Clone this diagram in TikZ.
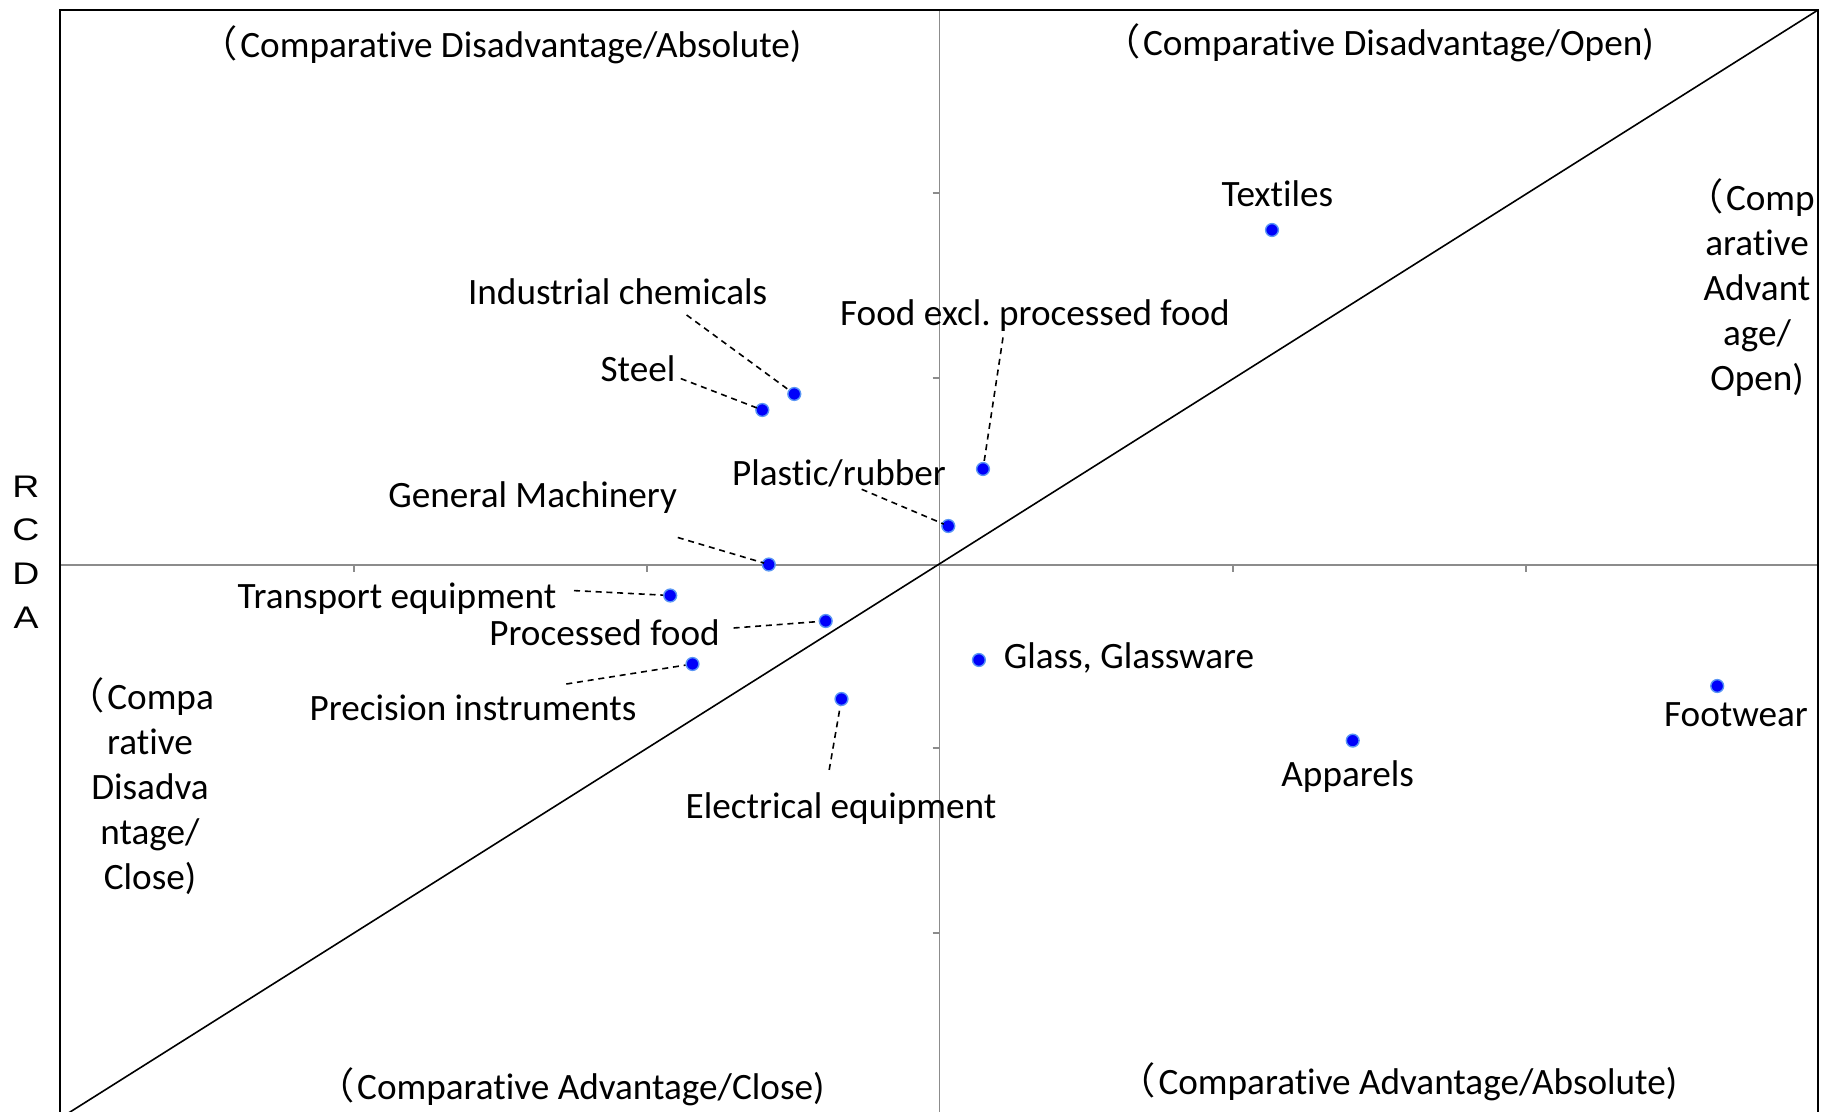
\documentclass[tikz,border=0pt]{standalone}
\usepackage{fontspec}
\setmainfont{Carlito}[RawFeature=-liga]
\newfontfamily\cjkfont{Noto Sans CJK JP}
\newfontfamily\arialfont{Liberation Sans}
\newcommand\fwlp{{\cjkfont （}\kern0.6pt}
\newcommand\wideletter[1]{\scalebox{1.2}[1]{#1}}
\definecolor{ptblue}{RGB}{0,0,250}
\definecolor{ptring}{RGB}{90,150,245}
\definecolor{axisgray}{RGB}{140,140,140}
\tikzset{
  lab/.style={font=\fontsize{9.3}{11.25}\selectfont, inner sep=0pt, anchor=base},
  mlab/.style={font=\fontsize{9.3}{11.25}\selectfont, inner sep=0pt, align=center, anchor=base},
  pt/.style={circle, fill=ptblue, draw=ptring, line width=0.35pt, inner sep=0pt, minimum size=3.2pt},
  leader/.style={draw=black, line width=0.4pt, dash pattern=on 1.5pt off 1.2pt},
  frameline/.style={draw=black, line width=0.5pt},
  axisline/.style={draw=axisgray, line width=0.4pt},
  diag/.style={draw=black, line width=0.4pt},
}
\begin{document}
\begin{tikzpicture}[x=0.25pt,y=-0.25pt]
\useasboundingbox (0,0) rectangle (1832,1112);
% axes
\draw[axisline] (60,565) -- (1818,565);
\draw[axisline] (939.5,10) -- (939.5,1120);
\foreach \tx in {354,647,1233,1526} \draw[axisline] (\tx,565) -- (\tx,572);
\foreach \ty in {193,378,748,933} \draw[axisline] (932.5,\ty) -- (939.5,\ty);
% frame
\draw[frameline] (60,1120) -- (60,10) -- (1818,10) -- (1818,1120);
% diagonal
\coordinate (dTR) at (1818,10);
\coordinate (dBL) at (55,1121.5);
\draw[diag] (dTR) -- (dBL);
% quadrant labels
\node[lab] (qTL) at (501,58) {\fwlp Comparative Disadvantage/Absolute)};
\node[lab] (qTR) at (1378.5,56) {\fwlp Comparative Disadvantage/Open)};
\node[lab] (qBL) at (571,1099) {\fwlp Comparative Advantage/Close)};
\node[lab] (qBR) at (1398,1094) {\fwlp Comparative Advantage/Absolute)};
\node[mlab] (qR) at (1757,390) {\fwlp Comp\hspace*{3.2pt}\\arative\\Advant\\age/\\Open)};
\node[mlab] (qL) at (150,889) {\fwlp Compa\hspace*{4.6pt}\\rative\\Disadva\\ntage/\\Close)};
% axis title
\node[font=\arialfont\fontsize{7.8}{10.9}\selectfont, inner sep=0pt, align=center, anchor=base] (rcda) at (26,628) {\wideletter{R}\\\wideletter{C}\\\wideletter{D}\\\wideletter{A}};
% points
\node[pt] (pTex) at (1272,230) {};
\node[pt] (pIC) at (794.3,394) {};
\node[pt] (pSt) at (762.3,410) {};
\node[pt] (pFood) at (983,469) {};
\node[pt] (pPl) at (948.3,526) {};
\node[pt] (pGM) at (768.8,564.5) {};
\node[pt] (pTr) at (670.2,595.5) {};
\node[pt] (pPF) at (825.7,621) {};
\node[pt] (pPI) at (692.5,664) {};
\node[pt] (pEl) at (841.5,699) {};
\node[pt] (pGl) at (978.9,660) {};
\node[pt] (pAp) at (1352.7,740.6) {};
\node[pt] (pFw) at (1717.2,686) {};
% point labels
\node[lab] (tTex) at (1277.5,207) {Textiles};
\node[lab] (tIC) at (617.7,305) {Industrial chemicals};
\node[lab] (tSt) at (638,382) {Steel};
\node[lab] (tFood) at (1035,325) {Food excl.\ processed food};
\node[lab] (tPl) at (839,485) {Plastic/rubber};
\node[lab] (tGM) at (532.7,507) {General Machinery};
\node[lab] (tTr) at (397,608) {Transport equipment};
\node[lab] (tPF) at (604.5,645) {Processed food};
\node[lab] (tPI) at (473,720.5) {Precision instruments};
\node[lab] (tEl) at (841,818.5) {Electrical equipment};
\node[lab] (tGl) at (1129,668) {Glass, Glassware};
\node[lab] (tAp) at (1347.7,786) {Apparels};
\node[lab] (tFw) at (1736,726) {Footwear};
% leader lines
\coordinate (lIC) at (686.6,315);
\coordinate (lSt) at (680.8,378.6);
\coordinate (lFood) at (1003,337.5);
\coordinate (lPl) at (861.7,489.3);
\coordinate (lGM) at (677.8,537.5);
\coordinate (lTr) at (574,590.6);
\coordinate (lPF) at (733.6,628);
\coordinate (lPI) at (566.3,684);
\coordinate (lEl) at (829.2,769.9);
\draw[leader] (lIC) -- (pIC);
\draw[leader] (lSt) -- (pSt.center);
\draw[leader] (lFood) -- (pFood);
\draw[leader] (lPl) -- (pPl.center);
\draw[leader] (lGM) -- (pGM.center);
\draw[leader] (lTr) -- (pTr);
\draw[leader] (lPF) -- (pPF);
\draw[leader] (lPI) -- (pPI);
\draw[leader] (lEl) -- (pEl);
% redraw points over leaders
\foreach \p in {pSt,pPl,pGM} \fill[ptblue] (\p.center) circle (5.2);
\end{tikzpicture}
\end{document}
